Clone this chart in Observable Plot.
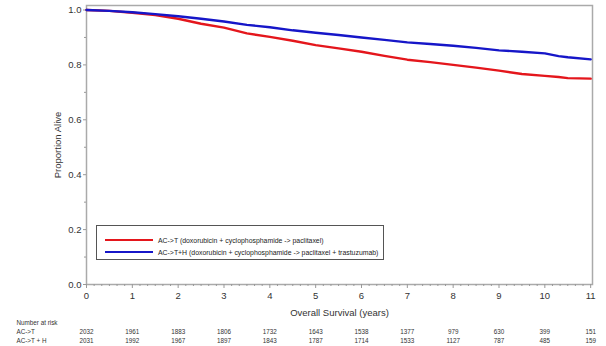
<!DOCTYPE html>
<html>
<head>
<meta charset="utf-8">
<script src="https://cdn.jsdelivr.net/npm/d3@7"></script>
<script src="https://cdn.jsdelivr.net/npm/@observablehq/plot@0.6"></script>
<style>
  html, body { margin: 0; padding: 0; background: #fff; }
  #wrap { position: relative; width: 606px; height: 346px; font-family: "Liberation Sans", Arial, sans-serif; }
  #legend { position: absolute; left: 96px; top: 225px; width: 288px; height: 35px; border: 1px solid #555; box-sizing: border-box; background: #fff; font-size: 6.9px; color: #222; }
  .row { position: absolute; left: 8px; height: 10px; display: flex; align-items: center; white-space: nowrap; }
  .sw { width: 48px; height: 2.5px; margin-right: 5px; }
</style>
</head>
<body>
<div id="wrap"></div>
<script>
// ---- data ----
const seriesNames = ["AC->T (doxorubicin + cyclophosphamide -> paclitaxel)",
                     "AC->T+H (doxorubicin + cyclophosphamide -> paclitaxel + trastuzumab)"];
const seriesColors = ["#e4161c", "#1616c8"];
const timesYears = [0, 0.5, 1, 1.5, 2, 2.5, 3, 3.5, 4, 4.5, 5, 5.5, 6, 6.5, 7, 7.5, 8, 8.5, 9, 9.5, 10, 10.3, 10.5, 11];
const survivalACT = [1.000, 0.997, 0.990, 0.982, 0.968, 0.950, 0.936, 0.915, 0.902, 0.888, 0.872, 0.860, 0.848, 0.833, 0.819, 0.810, 0.800, 0.790, 0.779, 0.767, 0.760, 0.756, 0.752, 0.750];
const survivalACTH = [1.000, 0.997, 0.992, 0.985, 0.977, 0.968, 0.958, 0.946, 0.937, 0.926, 0.917, 0.909, 0.900, 0.891, 0.882, 0.876, 0.870, 0.862, 0.853, 0.848, 0.842, 0.832, 0.828, 0.820];
const xTicks = [0, 1, 2, 3, 4, 5, 6, 7, 8, 9, 10, 11];
const yTicks = [0, 0.2, 0.4, 0.6, 0.8, 1.0];
const riskYears = [0, 1, 2, 3, 4, 5, 6, 7, 8, 9, 10, 11];
const riskACT = [2032, 1961, 1883, 1806, 1732, 1643, 1538, 1377, 979, 630, 399, 151];
const riskACTH = [2031, 1992, 1967, 1897, 1843, 1787, 1714, 1533, 1127, 787, 485, 159];
const riskRowLabels = ["AC->T", "AC->T + H"];
const riskTitle = "Number at risk";
const xLabel = "Overall Survival (years)";
const yLabel = "Proportion Alive";

// ---- build ----
const curves = [];
timesYears.forEach((t, i) => {
  curves.push({t, s: survivalACT[i], g: seriesNames[0]});
});
timesYears.forEach((t, i) => {
  curves.push({t, s: survivalACTH[i], g: seriesNames[1]});
});
const risk = riskYears.map((t, i) => ({t, a: riskACT[i], b: riskACTH[i]}));
const xMinor = d3.range(0, 11.001, 1/6).filter(v => Math.abs(v - Math.round(v)) > 1e-6);
const yMinor = [0.1, 0.3, 0.5, 0.7, 0.9];

const textColor = "#333";
const chart = Plot.plot({
  width: 606,
  height: 346,
  marginLeft: 86,
  marginRight: 14,
  marginTop: 5,
  marginBottom: 62,
  style: {fontFamily: "'Liberation Sans', Arial, sans-serif", color: textColor, background: "#fff", overflow: "visible"},
  x: {domain: [0, 11.04]},
  y: {domain: [0, 1.0164]},
  color: {domain: seriesNames, range: seriesColors},
  marks: [
    Plot.frame({stroke: "#aaa", strokeWidth: 1.5}),
    Plot.axisX({ticks: xTicks, tickSize: 4, tickPadding: 4, tickFormat: d => String(d), fontSize: 9.5, stroke: "#999",
                label: xLabel, labelAnchor: "center", labelArrow: "none", labelOffset: 31}),
    Plot.axisX({ticks: xMinor, tickSize: 2, text: null, label: null, stroke: "#999"}),
    Plot.axisY({ticks: yTicks, tickSize: 3, tickPadding: 2, tickFormat: d3.format(".1f"), fontSize: 9.5, stroke: "#999",
                label: yLabel, labelAnchor: "center", labelArrow: "none", labelOffset: 32}),
    Plot.axisY({ticks: yMinor, tickSize: 2, text: null, label: null, stroke: "#999"}),
    Plot.line(curves, {x: "t", y: "s", z: "g", stroke: "g", strokeWidth: 2.4, curve: "linear"}),
    Plot.text([riskTitle], {x: 0, y: 0, text: d => d, dx: -70, dy: 38, textAnchor: "start", fontSize: 6.3, fill: textColor}),
    Plot.text([riskRowLabels[0]], {x: 0, y: 0, text: d => d, dx: -70, dy: 47, textAnchor: "start", fontSize: 6.3, fill: textColor}),
    Plot.text([riskRowLabels[1]], {x: 0, y: 0, text: d => d, dx: -70, dy: 56, textAnchor: "start", fontSize: 6.3, fill: textColor}),
    Plot.text(risk, {x: "t", y: 0, text: d => String(d.a), dy: 47, fontSize: 6.3, fill: textColor}),
    Plot.text(risk, {x: "t", y: 0, text: d => String(d.b), dy: 56, fontSize: 6.3, fill: textColor})
  ]
});
const wrap = document.getElementById("wrap");
wrap.appendChild(chart);

// legend (inside plot area, bottom-left)
const legend = document.createElement("div");
legend.id = "legend";
seriesNames.forEach((name, i) => {
  const row = document.createElement("div");
  row.className = "row";
  row.style.top = (i === 0 ? 9 : 21) + "px";
  const sw = document.createElement("span");
  sw.className = "sw";
  sw.style.background = seriesColors[i];
  const tx = document.createElement("span");
  tx.textContent = name;
  row.appendChild(sw);
  row.appendChild(tx);
  legend.appendChild(row);
});
wrap.appendChild(legend);
</script>
</body>
</html>
